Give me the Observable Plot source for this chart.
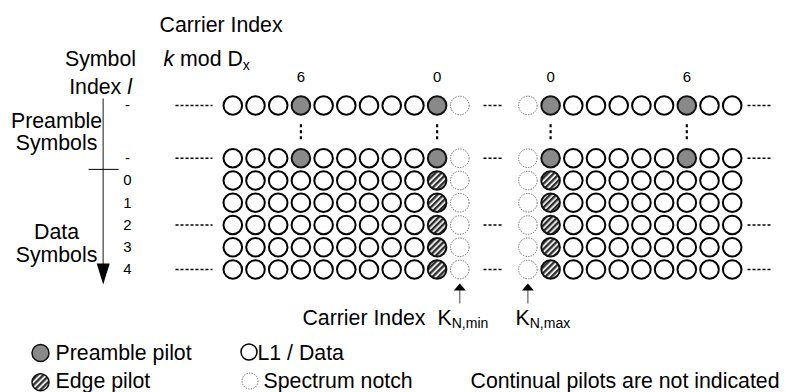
<!DOCTYPE html>
<html>
<head>
<meta charset="utf-8">
<script src="https://cdn.jsdelivr.net/npm/d3@7"></script>
<script src="https://cdn.jsdelivr.net/npm/@observablehq/plot@0.6"></script>
<style>
  html, body { margin: 0; padding: 0; background: #fff; }
  #chart svg { display: block; }
</style>
</head>
<body>
<div id="chart"></div>
<script>
// ---------------- DATA ----------------
const symbolLabels = ["-", "-", "0", "1", "2", "3", "4"];
const symbolKinds  = ["preamble", "preamble", "data", "data", "data", "data", "data"];
// cell types per carrier, left block (ends at K_N,min notch) and right block (starts at K_N,max notch)
const leftPreamble  = ["L1", "L1", "L1", "pilot", "L1", "L1", "L1", "L1", "L1", "pilot", "notch"];
const rightPreamble = ["notch", "pilot", "L1", "L1", "L1", "L1", "L1", "pilot", "L1", "L1"];
const leftData      = ["L1", "L1", "L1", "L1", "L1", "L1", "L1", "L1", "L1", "edge", "notch"];
const rightData     = ["notch", "edge", "L1", "L1", "L1", "L1", "L1", "L1", "L1", "L1"];
// "k mod Dx" labels above the carriers
const leftModLabels  = ["", "", "", "6", "", "", "", "", "", "0", ""];
const rightModLabels = ["", "0", "", "", "", "", "", "6", "", ""];
// symbol rows that carry the "....." continuation marks
const dashedRows = [0, 1, 4, 6];
const legendNames = ["Preamble pilot", "L1 / Data", "Edge pilot", "Spectrum notch"];
const legendTypes = ["pilot", "L1", "edge", "notch"];

// ---------------- LAYOUT (code, not data) ----------------
const FONT = "Liberation Sans, Arial, Helvetica, sans-serif";
const BIG = 21.3, SMALL = 15, SUB = 14;
const X0 = 232.3, DX = 22.7, Y0 = 180, DY = 22.25;
const xu = p => (p - X0) / DX;      // pixel -> carrier units (annotation helper)
const yu = p => (p - Y0) / DY;      // pixel -> symbol units
const rightOffset = 13;
const rowPos = i => (i === 0 ? yu(105) : i - 2);

const cells = [];
symbolLabels.forEach((lab, i) => {
  const pre = symbolKinds[i] === "preamble";
  (pre ? leftPreamble : leftData).forEach((t, j) => cells.push({row: rowPos(i), col: j, type: t}));
  (pre ? rightPreamble : rightData).forEach((t, j) => cells.push({row: rowPos(i), col: j + rightOffset, type: t}));
});

const modLabels = [];
leftModLabels.forEach((t, j) => t && modLabels.push({col: j, t}));
rightModLabels.forEach((t, j) => t && modLabels.push({col: j + rightOffset, t}));

const pilotCols = modLabels.map(d => d.col);

const dashSegs = [[xu(175), xu(212)], [xu(483), xu(503)], [xu(747), xu(770)]];
const dashes = [];
dashedRows.forEach(r => dashSegs.forEach(([a, b]) => dashes.push({y: rowPos(r), x1: a, x2: b})));

const styles = {
  L1:    {fill: "white",     stroke: "black", strokeWidth: 2},
  pilot: {fill: "url(#pp)",  stroke: "#111",  strokeWidth: 2},
  edge:  {fill: "url(#ep)",  stroke: "#111",  strokeWidth: 2},
  notch: {fill: "white",     stroke: "#666",  strokeWidth: 1, strokeDasharray: "1.3,1.3"}
};

const triDown = {draw(ctx) { ctx.moveTo(-6.5, -21); ctx.lineTo(6.5, -21); ctx.lineTo(0, 0); ctx.closePath(); }};
const triUp   = {draw(ctx) { ctx.moveTo(-6, 7); ctx.lineTo(6, 7); ctx.lineTo(0, 0); ctx.closePath(); }};

function label(str, px, py, opts = {}) {
  return Plot.text([str], {
    text: d => d, frameAnchor: "top-left", dx: px, dy: py,
    lineAnchor: "bottom", textAnchor: "start",
    fontSize: BIG, fontFamily: FONT, fill: "black", ...opts
  });
}

const marks = [];
// continuation dashes
marks.push(Plot.link(dashes, {x1: "x1", x2: "x2", y1: "y", y2: "y", stroke: "black", strokeWidth: 1.5, strokeDasharray: "3,2"}));
// vertical ':' between the preamble rows
const midPre = (rowPos(0) + rowPos(1)) / 2;
marks.push(Plot.link(pilotCols, {x1: d => d, x2: d => d, y1: midPre - 0.34, y2: midPre + 0.34, stroke: "black", strokeWidth: 2.2, strokeDasharray: "3,3"}));
// cells
for (const type of ["L1", "pilot", "edge", "notch"]) {
  marks.push(Plot.dot(cells.filter(d => d.type === type), {x: "col", y: "row", r: 9.3, ...styles[type]}));
}
// k mod Dx column labels
marks.push(Plot.text(modLabels, {x: "col", y: () => rowPos(0), text: "t", dy: -24, lineAnchor: "bottom", fontSize: SMALL, fontFamily: FONT, fill: "black"}));
// symbol index labels
marks.push(Plot.text(symbolLabels.map((t, i) => ({t, y: rowPos(i)})), {y: "y", text: "t", frameAnchor: "left", dx: 127, textAnchor: "middle", lineAnchor: "middle", fontSize: SMALL, fontFamily: FONT, fill: "black"}));
// symbol axis arrow
marks.push(Plot.link([0], {x1: xu(102.7), x2: xu(102.7), y1: yu(98), y2: yu(266), stroke: "#666", strokeWidth: 1.5}));
marks.push(Plot.dot([0], {x: xu(102.7), y: yu(284), symbol: triDown, fill: "black", stroke: "none"}));
// preamble / data separator tick
marks.push(Plot.link([0], {x1: xu(88), x2: xu(118), y1: -0.5, y2: -0.5, stroke: "black", strokeWidth: 1}));
// K_N arrows under the notch carriers
const notchCols = [leftData.indexOf("notch"), rightData.indexOf("notch") + rightOffset];
marks.push(Plot.link(notchCols, {x1: d => d, x2: d => d, y1: yu(289), y2: yu(303), stroke: "#444", strokeWidth: 1}));
marks.push(Plot.dot(notchCols, {x: d => d, y: yu(283), symbol: triUp, fill: "black", stroke: "none"}));

// text annotations
marks.push(label("Carrier Index", 159, 31));
marks.push(label("k mod Dx", 163, 65));
marks.push(label("Symbol", 100, 65, {textAnchor: "middle"}));
marks.push(label("Index l", 100, 93, {textAnchor: "middle"}));
marks.push(label("Preamble", 56, 127, {textAnchor: "middle"}));
marks.push(label("Symbols", 56, 149, {textAnchor: "middle"}));
marks.push(label("Data", 56, 238, {textAnchor: "middle"}));
marks.push(label("Symbols", 56, 261.5, {textAnchor: "middle"}));
marks.push(label("Carrier Index", 425, 324, {textAnchor: "end"}));
marks.push(label("KN,min", 437, 324));
marks.push(label("KN,max", 515, 324));

// legend
const legendPos = [[40, 352.5, 55, 359.5], [248.5, 351.5, 257, 359.5], [40, 381.8, 55, 387.5], [249.5, 380.5, 263, 387.5]];
legendTypes.forEach((t, i) => {
  const [cx, cy, tx, ty] = legendPos[i];
  const st = {...styles[t]};
  if (t !== "notch") st.strokeWidth = 1.5;
  marks.push(Plot.dot([t], {frameAnchor: "top-left", dx: cx, dy: cy, r: (t === "L1" || t === "notch") ? 8 : 8.5, ...st}));
  marks.push(label(legendNames[i], tx, ty));
});
marks.push(label("Continual pilots are not indicated", 470, 387.5));

const svg = Plot.plot({
  width: 786, height: 392,
  marginLeft: 0, marginRight: 0, marginTop: 0, marginBottom: 0,
  x: {domain: [0, 22], range: [X0, X0 + 22 * DX], axis: null},
  y: {domain: [0, 4], range: [Y0, Y0 + 4 * DY], axis: null},
  style: {background: "white", fontFamily: FONT},
  marks
});

// fill patterns
const defs = d3.select(svg).insert("defs", ":first-child");
const pp = defs.append("pattern").attr("id", "pp").attr("width", 2).attr("height", 2).attr("patternUnits", "userSpaceOnUse");
pp.append("rect").attr("width", 2).attr("height", 2).attr("fill", "#c2c2c2");
pp.append("rect").attr("width", 1).attr("height", 1).attr("fill", "#505050");
pp.append("rect").attr("x", 1).attr("y", 1).attr("width", 1).attr("height", 1).attr("fill", "#505050");
const ep = defs.append("pattern").attr("id", "ep").attr("width", 4.2).attr("height", 4.2).attr("patternUnits", "userSpaceOnUse").attr("patternTransform", "rotate(45)");
ep.append("rect").attr("width", 4.2).attr("height", 4.2).attr("fill", "#e6e6e6");
ep.append("rect").attr("width", 2.2).attr("height", 4.2).attr("fill", "#2a2a2a");

// rich text: italics and subscripts
const NS = "http://www.w3.org/2000/svg";
function rich(el, parts) {
  el.textContent = "";
  for (const p of parts) {
    const ts = document.createElementNS(NS, "tspan");
    ts.textContent = p.t;
    if (p.it) ts.setAttribute("font-style", "italic");
    if (p.size) ts.setAttribute("font-size", p.size);
    if (p.dy) ts.setAttribute("dy", p.dy);
    el.appendChild(ts);
  }
}
svg.querySelectorAll("text").forEach(el => {
  const s = el.textContent;
  if (s === "k mod Dx") rich(el, [{t: "k", it: true}, {t: " mod D"}, {t: "x", size: SUB, dy: 4}]);
  else if (s === "Index l") rich(el, [{t: "Index "}, {t: "l", it: true}]);
  else if (s === "KN,min") rich(el, [{t: "K"}, {t: "N,min", size: SUB, dy: 3}]);
  else if (s === "KN,max") rich(el, [{t: "K"}, {t: "N,max", size: SUB, dy: 3}]);
});

document.getElementById("chart").appendChild(svg);
</script>
</body>
</html>
